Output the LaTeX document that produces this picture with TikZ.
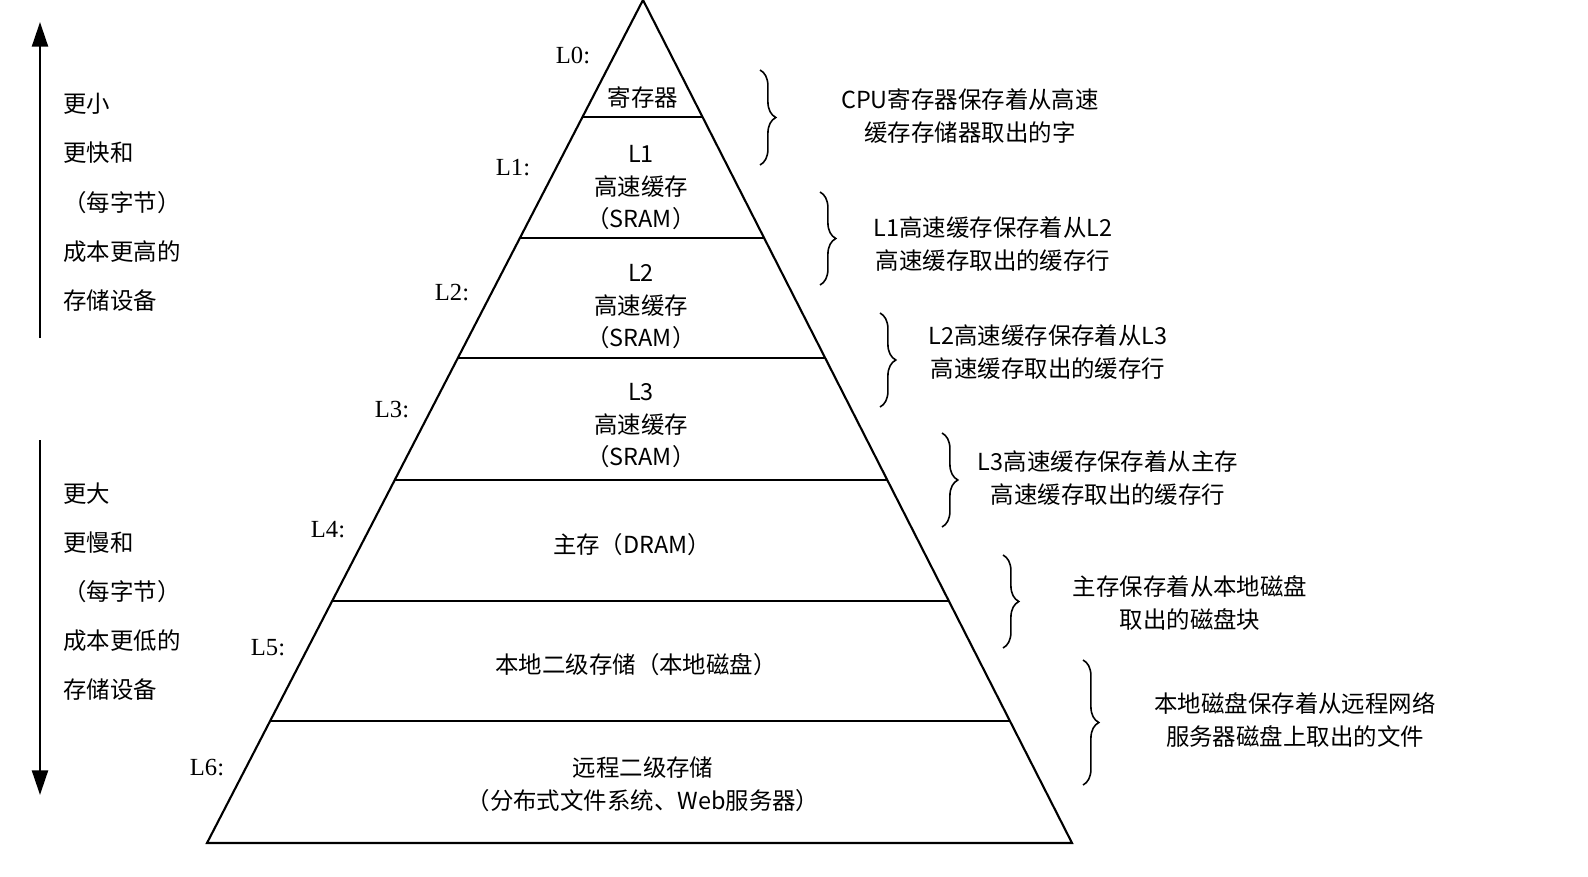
\documentclass[tikz,border=0pt]{standalone}
\usepackage{fontspec}
\setmainfont{Liberation Serif}
\newfontfamily\cjk{Noto Sans CJK SC}[Scale=0.92]
\usetikzlibrary{decorations.pathreplacing,arrows.meta}
\begin{document}
\begin{tikzpicture}[x=0.02cm,y=-0.02cm,
  txt/.style={font=\cjk\fontsize{14.5}{18.5}\selectfont,align=center,inner sep=0pt},
  lvl/.style={font=\fontsize{14}{16}\selectfont,inner sep=0pt},
  brc/.style={decorate,decoration={brace,amplitude=9pt},line width=0.9pt},
  ln/.style={line width=1.2pt}]
\useasboundingbox (0,0) rectangle (1588,876);
\coordinate (apex) at (643,0);
\coordinate (bl) at (207,843);
\coordinate (br) at (1072,843);
\draw[ln] (apex) -- (bl) -- (br) -- cycle;
\foreach \y/\l/\r in {117/582/703,238/520/764,358/458/825,480/395/887,601/332/949,721/270/1010}
  \draw[ln] (\l,\y) -- (\r,\y);
% levels
\node[lvl] (l0) at (573,55) {L0:};
\node[lvl] (l1) at (513,168) {L1:};
\node[lvl] (l2) at (452,293) {L2:};
\node[lvl] (l3) at (392,410) {L3:};
\node[lvl] (l4) at (328,530) {L4:};
\node[lvl] (l5) at (268,648) {L5:};
\node[lvl] (l6) at (207,768) {L6:};
% inside
\node[txt] (t0) at (643,98) {寄存器};
\node[txt] (t1) at (641,188) {L1\\高速缓存\\（SRAM）};
\node[txt] (t2) at (641,307) {L2\\高速缓存\\（SRAM）};
\node[txt] (t3) at (641,426) {L3\\高速缓存\\（SRAM）};
\node[txt] (t4) at (632,545) {主存（DRAM）};
\node[txt] (t5) at (636,665) {本地二级存储（本地磁盘）};
\node[txt] (t6) at (643,784) {远程二级存储\\（分布式文件系统、Web服务器）};
% braces
\draw[brc] (760,70) -- (760,165);
\draw[brc] (820,192) -- (820,285);
\draw[brc] (880,313) -- (880,407);
\draw[brc] (942,433) -- (942,527);
\draw[brc] (1003,555) -- (1003,648);
\draw[brc] (1083,660) -- (1083,785);
\node[txt] (d0) at (970,116) {CPU寄存器保存着从高速\\缓存存储器取出的字};
\node[txt] (d1) at (993,244) {L1高速缓存保存着从L2\\高速缓存取出的缓存行};
\node[txt] (d2) at (1048,352) {L2高速缓存保存着从L3\\高速缓存取出的缓存行};
\node[txt] (d3) at (1108,478) {L3高速缓存保存着从主存\\高速缓存取出的缓存行};
\node[txt] (d4) at (1190,603) {主存保存着从本地磁盘\\取出的磁盘块};
\node[txt] (d5) at (1295,720) {本地磁盘保存着从远程网络\\服务器磁盘上取出的文件};
% left side
\coordinate (ua) at (40,338); \coordinate (ub) at (40,22);
\coordinate (da) at (40,440); \coordinate (db) at (40,795);
\draw[line width=1.6pt,-{Triangle[length=14pt,width=9pt]}] (ua) -- (ub);
\draw[line width=1.6pt,-{Triangle[length=14pt,width=9pt]}] (da) -- (db);
\node[txt,align=left,anchor=north west,font=\cjk\fontsize{14.5}{28}\selectfont] (s1) at (63,93) {更小\\更快和\\（每字节）\\成本更高的\\存储设备};
\node[txt,align=left,anchor=north west,font=\cjk\fontsize{14.5}{28}\selectfont] (s2) at (63,482) {更大\\更慢和\\（每字节）\\成本更低的\\存储设备};
\end{tikzpicture}
\end{document}
